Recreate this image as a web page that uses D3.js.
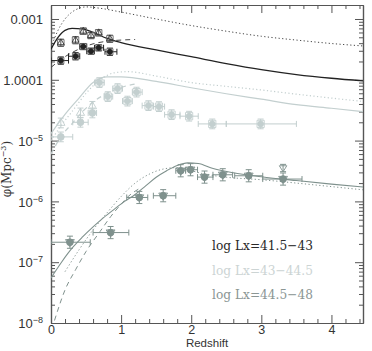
<!DOCTYPE html>
<html><head><meta charset="utf-8">
<script src="https://cdn.jsdelivr.net/npm/d3@7"></script>
<style>body{margin:0;background:#fff}svg{display:block}</style>
</head><body><svg id="c" width="372" height="351"></svg>
<script>
// ---------- data ----------
const xTicks = [0, 1, 2, 3, 4];
const yTicks = [1e-8, 1e-7, 1e-6, 1e-5, 1e-4, 1e-3];
const yTickLabels = [["10", "\u22128"], ["10", "\u22127"], ["10", "\u22126"], ["10", "\u22125"], ["1.0001", ""], ["0.001", ""]];
const legendLabels = ["log  Lx=41.5\u221243", "log  Lx=43\u221244.5", "log  Lx=44.5\u221248"];

// low-Lx (black) data
const blackZ = [0.14, 0.35, 0.46, 0.57, 0.68, 0.84];
const blackZLo = [0.0, 0.25, 0.41, 0.51, 0.62, 0.77];
const blackZHi = [0.25, 0.41, 0.51, 0.62, 0.75, 0.94];
const blackTriPhi = [4.06e-4, 4.48e-4, 6.3e-4, 5.35e-4, 5.93e-4, 4.72e-4];
const blackCircPhi = [2.07e-4, 2.44e-4, 3.52e-4, 2.95e-4, 3.36e-4, 2.89e-4];
const blackErrDex = [0.06, 0.06, 0.05, 0.05, 0.05, 0.06];

// mid-Lx (light) data
const lightLowZ = [0.14, 0.42, 0.59];
const lightLowZLo = [0.0, 0.31, 0.53];
const lightLowZHi = [0.31, 0.53, 0.65];
const lightTriPhi = [1.95e-5, 2.85e-5, 3.66e-5];
const lightCircPhi = [1.15e-5, 2.0e-5, 2.85e-5];
const lightBoxZ = [0.69, 0.81, 0.95, 1.09, 1.22, 1.39, 1.54, 1.72, 1.97, 2.30, 2.99];
const lightBoxZLo = [0.62, 0.76, 0.88, 1.02, 1.16, 1.30, 1.46, 1.62, 1.84, 2.10, 2.50];
const lightBoxZHi = [0.76, 0.88, 1.02, 1.16, 1.30, 1.46, 1.62, 1.84, 2.10, 2.50, 3.50];
const lightBoxPhi = [9.0e-5, 5.29e-5, 7.16e-5, 4.46e-5, 6.27e-5, 3.76e-5, 3.62e-5, 2.67e-5, 2.52e-5, 1.88e-5, 1.88e-5];
const lightErrDex = 0.08;

// high-Lx (medium grey) data
const medZ = [0.27, 0.85, 1.26, 1.60, 1.85, 1.99, 2.19, 2.45, 2.82, 3.31];
const medZLo = [0.0, 0.60, 1.08, 1.46, 1.78, 1.92, 2.09, 2.31, 2.62, 3.02];
const medZHi = [0.56, 1.11, 1.38, 1.78, 1.92, 2.09, 2.31, 2.59, 3.02, 3.58];
const medPhi = [2.13e-7, 3.07e-7, 1.16e-6, 1.24e-6, 3.19e-6, 3.32e-6, 2.51e-6, 2.74e-6, 2.64e-6, 2.33e-6];
const medTriZ = [3.31];
const medTriPhi = [3.54e-6];
const medErrDex = 0.1;

// model curves
const blackSolidZ = [0, 0.1, 0.2, 0.3, 0.45, 0.6, 0.8, 1.0, 1.5, 2.0, 2.5, 3.0, 3.5, 4.0, 4.45];
const blackSolidPhi = [3.2e-4, 5.0e-4, 6.5e-4, 7.0e-4, 6.9e-4, 6.0e-4, 4.8e-4, 4.1e-4, 3.1e-4, 2.4e-4, 1.85e-4, 1.47e-4, 1.22e-4, 1.06e-4, 9.6e-5];
const blackDotZ = [0, 0.1, 0.2, 0.3, 0.4, 0.5, 0.7, 1.0, 1.5, 2.0, 2.5, 3.0, 3.5, 4.0, 4.45];
const blackDotPhi = [3.4e-4, 6.5e-4, 1.0e-3, 1.3e-3, 1.5e-3, 1.58e-3, 1.5e-3, 1.3e-3, 1.0e-3, 7.8e-4, 6.3e-4, 5.2e-4, 4.5e-4, 3.95e-4, 3.6e-4];
const blackDashZ = [0, 0.2, 0.4, 0.6, 0.8, 1.0, 1.2];
const blackDashPhi = [1.6e-4, 2.4e-4, 3.2e-4, 3.9e-4, 4.3e-4, 4.5e-4, 4.6e-4];

const lightSolidZ = [0, 0.2, 0.4, 0.6, 0.8, 1.0, 1.5, 2.0, 2.5, 3.0, 3.5, 4.0, 4.45];
const lightSolidPhi = [1.3e-5, 2.7e-5, 5.0e-5, 9.0e-5, 1.12e-4, 1.12e-4, 9.4e-5, 7.4e-5, 5.9e-5, 4.8e-5, 3.9e-5, 3.4e-5, 3.0e-5];
const lightDotZ = [0, 0.15, 0.3, 0.5, 0.7, 0.9, 1.1, 1.5, 2.0, 2.5, 3.0, 3.5, 4.0, 4.45];
const lightDotPhi = [1.0e-5, 1.8e-5, 3.0e-5, 6.0e-5, 1.0e-4, 1.3e-4, 1.36e-4, 1.15e-4, 9.0e-5, 7.8e-5, 6.8e-5, 5.8e-5, 5.0e-5, 4.4e-5];
const lightDashZ = [0, 0.15, 0.3, 0.45, 0.6, 0.8, 1.0, 1.2];
const lightDashPhi = [6e-6, 1.2e-5, 1.9e-5, 3.0e-5, 4.3e-5, 6.0e-5, 7.5e-5, 8.5e-5];

const medSolidZ = [0, 0.15, 0.3, 0.45, 0.6, 0.75, 0.9, 1.05, 1.2, 1.35, 1.5, 1.65, 1.8, 1.95, 2.1, 2.3, 2.6, 3.0, 3.5, 4.0, 4.45];
const medSolidPhi = [5.5e-8, 1.0e-7, 1.7e-7, 2.6e-7, 3.8e-7, 5.4e-7, 7.4e-7, 1.0e-6, 1.3e-6, 1.8e-6, 2.5e-6, 3.2e-6, 3.9e-6, 4.3e-6, 4.2e-6, 3.5e-6, 2.95e-6, 2.55e-6, 2.2e-6, 1.92e-6, 1.72e-6];
const medDotZ = [0.2, 0.4, 0.6, 0.8, 1.0, 1.2, 1.4, 1.6, 1.8, 2.0, 2.2, 2.5, 3.0, 3.5, 4.0, 4.45];
const medDotPhi = [7e-8, 1.6e-7, 3.4e-7, 6.5e-7, 1.2e-6, 2.0e-6, 2.8e-6, 3.4e-6, 3.6e-6, 3.2e-6, 2.8e-6, 2.5e-6, 2.27e-6, 2.0e-6, 1.75e-6, 1.55e-6];
const medDashZ = [0.05, 0.2, 0.35, 0.5, 0.7, 0.85, 1.0, 1.1, 1.25];
const medDashPhi = [1.1e-8, 3.5e-8, 7.5e-8, 1.5e-7, 3.2e-7, 5.6e-7, 9e-7, 1.2e-6, 1.6e-6];

// ---------- drawing ----------
const W = 372, H = 351;
const m = {l: 51, r: 9, t: 5, b: 28};
const svg = d3.select("#c");
const x = d3.scaleLinear().domain([0, 4.45]).range([m.l, W - m.r]);
const y = d3.scaleLog().domain([1e-8, Math.pow(10, -2.77)]).range([H - m.b, m.t]);

const C_BLACK = "#222", C_LIGHT = "#c3cfcf", C_MED = "#7f918d";
const axisColor = "#555";

// minor ticks
const xMinor = d3.range(0, 4.45, 0.2).filter(v => Math.abs(v - Math.round(v)) > 1e-6);
const yMinor = [];
for (let e = -8; e < -2; e++) for (let k = 2; k <= 9; k++) { const v = k * Math.pow(10, e); if (v <= y.domain()[1]) yMinor.push(v); }

function styleAxis(g) {
  g.selectAll("path").attr("stroke", axisColor).attr("stroke-width", 1.2);
  g.selectAll("line").attr("stroke", axisColor).attr("stroke-width", 1);
  g.selectAll("text").attr("fill", "#333");
}
const fontT = "Liberation Sans, Arial, sans-serif";

// bottom
svg.append("g").attr("transform", `translate(0,${H - m.b})`)
  .call(d3.axisBottom(x).tickValues(xMinor).tickSize(-4).tickFormat("").tickSizeOuter(0)).call(styleAxis);
svg.append("g").attr("transform", `translate(0,${H - m.b})`)
  .call(d3.axisBottom(x).tickValues(xTicks).tickSize(-8).tickSizeOuter(0).tickPadding(2).tickFormat(d3.format("d")))
  .call(styleAxis)
  .call(g => g.selectAll("text").attr("font-family", fontT).attr("font-size", 12.5));
// top
svg.append("g").attr("transform", `translate(0,${m.t})`)
  .call(d3.axisTop(x).tickValues(xMinor).tickSize(-4).tickFormat("").tickSizeOuter(0)).call(styleAxis);
svg.append("g").attr("transform", `translate(0,${m.t})`)
  .call(d3.axisTop(x).tickValues(xTicks).tickSize(-8).tickFormat("").tickSizeOuter(0)).call(styleAxis);
// left
svg.append("g").attr("transform", `translate(${m.l},0)`)
  .call(d3.axisLeft(y).tickValues(yMinor).tickSize(-4).tickFormat("").tickSizeOuter(0)).call(styleAxis);
const yAx = svg.append("g").attr("transform", `translate(${m.l},0)`)
  .call(d3.axisLeft(y).tickValues(yTicks).tickSize(-8).tickSizeOuter(0).tickPadding(8).tickFormat(""))
  .call(styleAxis);
yAx.selectAll(".tick text").each(function(d) {
  const i = yTicks.indexOf(d);
  const t = d3.select(this).attr("font-family", fontT).attr("font-size", 13).attr("dy", "0.36em");
  t.text(null);
  t.append("tspan").text(yTickLabels[i][0]);
  if (yTickLabels[i][1]) t.append("tspan").attr("dy", -5).attr("font-size", 9).text(yTickLabels[i][1]);
});
// right
svg.append("g").attr("transform", `translate(${W - m.r},0)`)
  .call(d3.axisRight(y).tickValues(yMinor).tickSize(-4).tickFormat("").tickSizeOuter(0)).call(styleAxis);
svg.append("g").attr("transform", `translate(${W - m.r},0)`)
  .call(d3.axisRight(y).tickValues(yTicks).tickSize(-8).tickFormat("").tickSizeOuter(0)).call(styleAxis);

// axis titles
svg.append("text").attr("x", (m.l + W - m.r) / 2).attr("y", 347).attr("text-anchor", "middle")
  .attr("font-family", fontT).attr("font-size", 11.5).attr("fill", "#333").text("Redshift");
const yt = svg.append("text").attr("transform", "translate(11,169) rotate(-90)").attr("text-anchor", "middle")
  .attr("font-family", "DejaVu Serif, serif").attr("font-size", 12).attr("fill", "#333");
yt.append("tspan").text("\u03c6(Mpc");
yt.append("tspan").attr("dy", -5).attr("font-size", 8).text("\u22123");
yt.append("tspan").attr("dy", 5).text(")");

// clip
svg.append("clipPath").attr("id", "clip").append("rect")
  .attr("x", m.l).attr("y", m.t).attr("width", W - m.l - m.r).attr("height", H - m.t - m.b);
const plot = svg.append("g").attr("clip-path", "url(#clip)");

const line = d3.line().x(d => x(d[0])).y(d => y(d[1])).curve(d3.curveMonotoneX);
function curve(zs, ps, color, dash, w) {
  plot.append("path").attr("d", line(zs.map((z, i) => [z, ps[i]])))
    .attr("fill", "none").attr("stroke", color).attr("stroke-width", w)
    .attr("stroke-dasharray", dash);
}
curve(blackDotZ, blackDotPhi, "#444", "1.2,2.4", 1);
curve(blackSolidZ, blackSolidPhi, C_BLACK, null, 1.3);
curve(blackDashZ, blackDashPhi, "#444", "5,4", 1);
curve(lightDotZ, lightDotPhi, C_LIGHT, "1.2,2.4", 1.2);
curve(lightSolidZ, lightSolidPhi, C_LIGHT, null, 1.2);
curve(lightDashZ, lightDashPhi, C_LIGHT, "5,4", 1.2);
curve(medDotZ, medDotPhi, C_MED, "1.2,2.4", 1);
curve(medSolidZ, medSolidPhi, C_MED, null, 1.1);
curve(medDashZ, medDashPhi, C_MED, "5,4", 1);

// error bars & markers
function errbars(zs, lo, hi, ps, dex, color) {
  zs.forEach((z, i) => {
    const e = Array.isArray(dex) ? dex[i] : dex;
    const g = plot.append("g").attr("stroke", color).attr("stroke-width", 1).attr("fill", "none");
    const yy = y(ps[i]);
    if (lo) {
      g.append("line").attr("x1", x(lo[i])).attr("x2", x(hi[i])).attr("y1", yy).attr("y2", yy);
      g.append("line").attr("x1", x(lo[i])).attr("x2", x(lo[i])).attr("y1", yy - 3).attr("y2", yy + 3);
      g.append("line").attr("x1", x(hi[i])).attr("x2", x(hi[i])).attr("y1", yy - 3).attr("y2", yy + 3);
    }
    const y1 = y(ps[i] * Math.pow(10, e)), y2 = y(ps[i] / Math.pow(10, e));
    g.append("line").attr("x1", x(z)).attr("x2", x(z)).attr("y1", y1).attr("y2", y2);
    g.append("line").attr("x1", x(z) - 3).attr("x2", x(z) + 3).attr("y1", y1).attr("y2", y1);
    g.append("line").attr("x1", x(z) - 3).attr("x2", x(z) + 3).attr("y1", y2).attr("y2", y2);
  });
}
function markers(zs, ps, type, color, filled, size) {
  const sym = d3.symbol().type(type).size(size);
  plot.append("g").selectAll("path").data(zs).join("path")
    .attr("transform", (z, i) => `translate(${x(z)},${y(ps[i])})`)
    .attr("d", sym())
    .attr("fill", filled ? color : "none").attr("stroke", color).attr("stroke-width", 0.9);
}
const triDown = {draw(ctx, s) { const r = Math.sqrt(s) / 1.6; ctx.moveTo(-r, -r * 0.6); ctx.lineTo(r, -r * 0.6); ctx.lineTo(0, r); ctx.closePath(); }};

// medium series
errbars(medZ, medZLo, medZHi, medPhi, medErrDex, C_MED);
errbars(medTriZ, null, null, medTriPhi, 0.06, C_MED);
markers(medZ, medPhi, d3.symbolCircle, C_MED, true, 36);
markers(medZ, medPhi, triDown, C_MED, false, 50);
markers(medTriZ, medTriPhi, triDown, C_MED, false, 36);

// light series
errbars(lightLowZ, lightLowZLo, lightLowZHi, lightCircPhi, lightErrDex, C_LIGHT);
errbars(lightLowZ, null, null, lightTriPhi, lightErrDex, C_LIGHT);
errbars(lightBoxZ, lightBoxZLo, lightBoxZHi, lightBoxPhi, lightErrDex, C_LIGHT);
markers(lightLowZ, lightCircPhi, d3.symbolCircle, C_LIGHT, true, 36);
markers(lightLowZ, lightTriPhi, d3.symbolTriangle, C_LIGHT, false, 30);
markers(lightBoxZ, lightBoxPhi, d3.symbolSquare, C_LIGHT, false, 52);
markers(lightBoxZ, lightBoxPhi, d3.symbolCircle, C_LIGHT, true, 26);

// black series
errbars(blackZ, blackZLo, blackZHi, blackCircPhi, blackErrDex, C_BLACK);
errbars(blackZ, null, null, blackTriPhi, blackErrDex, "#555");
markers(blackZ, blackTriPhi, d3.symbolSquare, "#666", false, 42);
markers(blackZ, blackTriPhi, d3.symbolTriangle, "#333", false, 20);
markers(blackZ, blackCircPhi, d3.symbolSquare, "#666", false, 38);
markers(blackZ, blackCircPhi, d3.symbolCircle, C_BLACK, true, 20);

// legend
const legColors = ["#2a2a2a", "#ccd4d4", "#8b9694"];
const legY = [250, 275, 299];
legendLabels.forEach((t, i) => {
  svg.append("text").attr("x", 212).attr("y", legY[i]).attr("font-family", "DejaVu Serif, serif")
    .attr("font-size", 13).attr("fill", legColors[i]).attr("textLength", 101).attr("lengthAdjust", "spacingAndGlyphs")
    .text(t);
});
</script></body></html>
